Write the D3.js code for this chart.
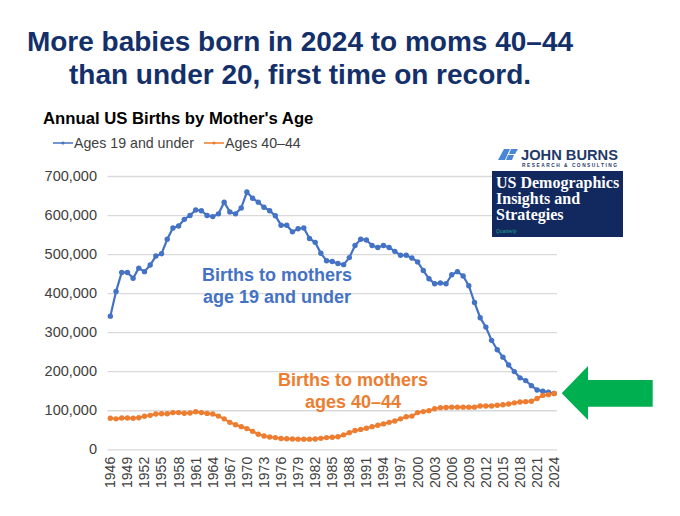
<!DOCTYPE html>
<html lang="en">
<head>
<meta charset="UTF-8">
<title>Annual US Births by Mother's Age</title>
<script src="https://d3js.org/d3.v7.min.js"></script>
<style>
    html, body { margin: 0; padding: 0; background: #fff; }
    svg { display: block; font-family: "Liberation Sans", Arial, sans-serif; }
    .grid line { stroke: #d9d9d9; stroke-width: 1.3; }
    .grid path { display: none; }
    .axis path, .axis line { display: none; }
    .axis text { font-size: 14px; fill: #404040; font-family: "Liberation Sans", Arial, sans-serif; }
</style>
</head>
<body>
<svg id="chart" width="680" height="516"></svg>
<script>
const years = d3.range(1946, 2025);
const yTicks = [0, 100000, 200000, 300000, 400000, 500000, 600000, 700000];

// in thousands
const under20 = [
    341, 404, 453, 453, 438, 464, 455, 472, 495, 501,
    538, 567, 572, 589, 599, 613, 611, 599, 596, 603,
    633, 608, 603, 618, 659, 643, 633, 620, 611, 598,
    574, 574, 557, 565, 567, 540, 530, 502, 483, 481,
    476, 473, 491, 522, 538, 536, 522, 517, 522, 517,
    507, 497, 497, 490, 480, 458, 437, 424, 426, 424,
    447, 455, 444, 419, 376, 337, 313, 279, 255, 236,
    216, 199, 183, 176, 163, 152, 149, 146, 143
];
const ages40to44 = [
    79.5, 78, 80, 80, 79.5, 81, 84.6, 87, 90.5, 91,
    91, 94, 94, 92.5, 93, 96, 94, 92, 90.5, 85,
    78, 69, 63, 58, 53, 46, 38.5, 34, 31.5, 30,
    27.5, 27, 26.5, 26, 26, 26, 26.5, 28, 30, 31,
    32, 37, 42.6, 48, 51, 54, 58, 61.5, 65, 69,
    72.5, 78, 83.5, 85, 94, 96.5, 99, 104, 106.7, 107,
    108, 108, 108, 108, 108, 111, 111, 111, 113, 114,
    116, 119, 121, 122, 123, 130, 138, 140, 143
];

const blue = "#4472c4", orange = "#ed7d31", navy = "#12295f";

const svg = d3.select("#chart");

const x = d3.scaleBand().domain(years).range([107.5, 557]);
const y = d3.scaleLinear().domain([0, 700000]).range([449.3, 176]);

// gridlines
svg.append("g").attr("class", "grid")
    .attr("transform", "translate(107.5,0)")
    .call(d3.axisLeft(y).tickValues(yTicks).tickSize(-449.5).tickFormat(""));

// axes
svg.append("g").attr("class", "axis")
    .attr("transform", "translate(97,0)")
    .call(d3.axisLeft(y).tickValues(yTicks).tickSize(0).tickPadding(0).tickFormat(d3.format(",")))
    .selectAll("text").style("font-size", "14.5px");

const xAxis = svg.append("g").attr("class", "axis")
    .attr("transform", "translate(0,449.3)")
    .call(d3.axisBottom(x).tickValues(years.filter((d, i) => i % 3 === 0 || d === 2024)).tickSize(0).tickFormat(d3.format("d")));
xAxis.selectAll("text")
    .attr("transform", "rotate(-90)")
    .attr("x", -7.5).attr("y", 0).attr("dy", "0.35em")
    .style("text-anchor", "end")
    .style("font-size", "14px");

// series
function drawSeries(values, color) {
    const line = d3.line()
        .x((d, i) => x(years[i]) + x.bandwidth() / 2)
        .y(d => y(d * 1000));
    svg.append("path").datum(values)
        .attr("fill", "none").attr("stroke", color).attr("stroke-width", 2.2).attr("d", line);
    svg.append("g").selectAll("circle").data(values).join("circle")
        .attr("cx", (d, i) => x(years[i]) + x.bandwidth() / 2)
        .attr("cy", d => y(d * 1000))
        .attr("r", 2.7)
        .attr("fill", color);
}
drawSeries(under20, blue);
drawSeries(ages40to44, orange);

// headline
svg.append("g").selectAll("text")
    .data(["More babies born in 2024 to moms 40–44", "than under 20, first time on record."])
    .join("text")
    .attr("x", 300).attr("y", (d, i) => 51 + i * 33)
    .attr("text-anchor", "middle")
    .attr("font-size", 28).attr("font-weight", "bold").attr("fill", "#14306a")
    .text(d => d);

svg.append("text").attr("x", 43).attr("y", 124)
    .attr("font-size", 16.7).attr("font-weight", "bold").attr("fill", "#000")
    .text("Annual US Births by Mother's Age");

// legend
const legend = [
    { label: "Ages 19 and under", color: blue, x: 53 },
    { label: "Ages 40–44", color: orange, x: 204 }
];
legend.forEach(d => {
    svg.append("line").attr("x1", d.x).attr("x2", d.x + 20).attr("y1", 143).attr("y2", 143)
        .attr("stroke", d.color).attr("stroke-width", 1.5);
    svg.append("circle").attr("cx", d.x + 10).attr("cy", 143).attr("r", 1.6).attr("fill", d.color);
    svg.append("text").attr("x", d.x + 21).attr("y", 147.5)
        .attr("font-size", 14.2).attr("fill", "#404040").text(d.label);
});

// annotations
function note(lines, color, cx, top) {
    svg.append("g").selectAll("text").data(lines).join("text")
        .attr("x", cx).attr("y", (d, i) => top + i * 22)
        .attr("text-anchor", "middle")
        .attr("font-size", 18).attr("font-weight", "bold").attr("fill", color)
        .text(d => d);
}
note(["Births to mothers", "age 19 and under"], blue, 277, 281);
note(["Births to mothers", "ages 40–44"], orange, 353, 386);

// green arrow
svg.append("path")
    .attr("d", "M561.7,393.3L588,366V380H652.7V406.7H588V420Z")
    .attr("fill", "#00b050");

// logo
const logo = svg.append("g");
logo.append("path")
    .attr("d", "M504,149H510L505,160H498Z M511,149H518L515,154H509Z M508,155H514L512,160H506Z")
    .attr("fill", "#4a86d8");
logo.append("text").attr("x", 521).attr("y", 160)
    .attr("font-size", 15.5).attr("font-weight", "bold").attr("fill", "#1f3a68")
    .attr("textLength", 97).attr("lengthAdjust", "spacingAndGlyphs").text("JOHN BURNS");
logo.append("text").attr("x", 522).attr("y", 166.5)
    .attr("font-size", 4.8).attr("font-weight", "bold").attr("fill", "#1f3a68")
    .attr("textLength", 95).text("RESEARCH & CONSULTING");
logo.append("rect").attr("x", 492).attr("y", 171).attr("width", 131).attr("height", 66).attr("fill", navy);
logo.append("g").selectAll("text")
    .data(["US Demographics", "Insights and", "Strategies"]).join("text")
    .attr("x", 496).attr("y", (d, i) => 187.5 + i * 16)
    .attr("font-family", "'Liberation Serif', serif")
    .attr("font-size", 16).attr("font-weight", "bold").attr("fill", "#fff")
    .text(d => d);
logo.append("text").attr("x", 496).attr("y", 233)
    .attr("font-size", 5).attr("font-style", "italic").attr("fill", "#1fa58c").text("Quarterly");
</script>
</body>
</html>
